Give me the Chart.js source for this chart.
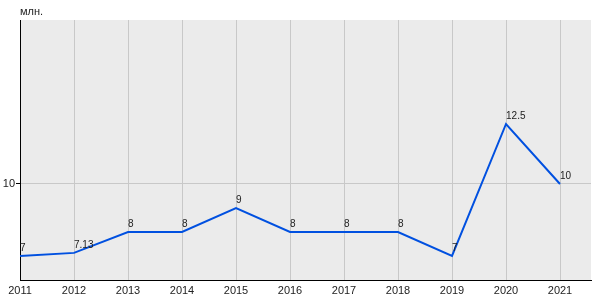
<!DOCTYPE html>
<html><head><meta charset="utf-8">
<script src="https://cdn.jsdelivr.net/npm/chart.js@4/dist/chart.umd.min.js"></script>
<style>html,body{margin:0;padding:0;background:#fff}#w{width:600px;height:300px}</style>
</head><body><div id="w"><canvas id="c"></canvas></div>
<script>
const years = [2011,2012,2013,2014,2015,2016,2017,2018,2019,2020,2021];
const values = [7,7.13,8,8,9,8,8,8,7,12.5,10];
const pointLabels = ["7","7.13","8","8","9","8","8","8","7","12.5","10"];
const yTicks = [10];
const unitLabel = "млн.";

const FONT = "'Liberation Sans', Arial, sans-serif";
const bgPlugin = {
  id:'bg',
  beforeDraw(chart){
    const {ctx, chartArea:a} = chart;
    ctx.save(); ctx.fillStyle='#ebebeb';
    ctx.fillRect(a.left,a.top,a.right-a.left,a.bottom-a.top);
    ctx.restore();
  },
  afterDraw(chart){
    const {ctx, chartArea:a} = chart;
    ctx.save();
    ctx.font = "11px " + FONT; ctx.fillStyle='#222';
    ctx.textAlign='left'; ctx.textBaseline='alphabetic';
    ctx.fillText(unitLabel, a.left, 15);
    const meta = chart.getDatasetMeta(0);
    ctx.font = "10px " + FONT; ctx.fillStyle='#222';
    meta.data.forEach((p,i)=>{ ctx.fillText(pointLabels[i], p.x, p.y-5); });
    ctx.restore();
  }
};
new Chart(document.getElementById('c'),{
  type:'line',
  data:{datasets:[{data:years.map((y,i)=>({x:y,y:values[i]})),borderColor:'#0050e0',borderWidth:2,pointRadius:0,tension:0,fill:false}]},
  options:{
    responsive:true, maintainAspectRatio:false, animation:false,
    layout:{padding:{top:20,right:9,left:0,bottom:0}},
    plugins:{legend:{display:false},tooltip:{enabled:false}},
    scales:{
      x:{type:'linear',min:2011,max:2021.574,
        afterBuildTicks(s){s.ticks=years.map(v=>({value:v}));},
        afterFit(s){s.height=20;},
        grid:{color:'#c8c8c8',drawTicks:false},
        border:{color:'#000',width:1},
        ticks:{padding:4,color:'#222',font:{family:FONT,size:11},callback:v=>String(v),maxRotation:0,autoSkip:false}
      },
      y:{min:6,max:16.833,
        afterBuildTicks(s){s.ticks=yTicks.map(v=>({value:v}));},
        afterFit(s){s.width=20;},
        grid:{color:'#c8c8c8',tickLength:4,tickColor:'#000'},
        border:{color:'#000',width:1},
        ticks:{padding:1,color:'#222',font:{family:FONT,size:11}}
      }
    }
  },
  plugins:[bgPlugin]
});
</script></body></html>
